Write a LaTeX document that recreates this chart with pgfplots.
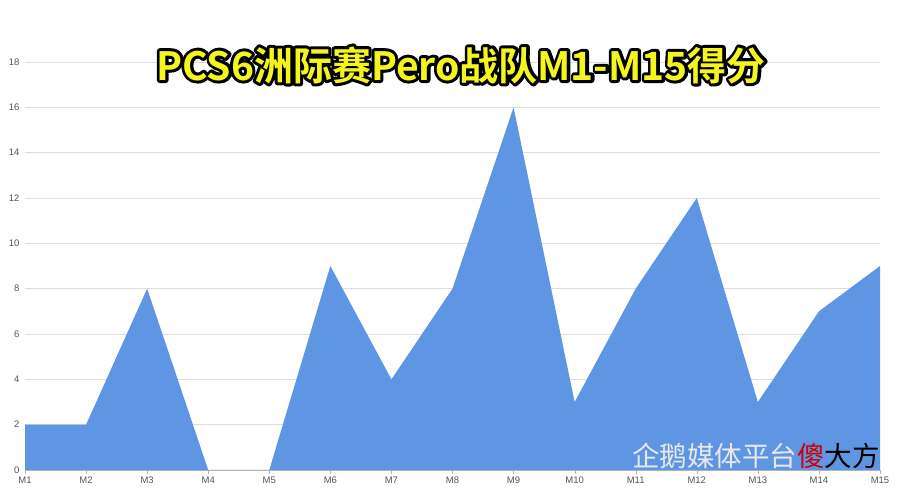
\documentclass[border=0pt]{standalone}
\usepackage{pgfplots}
\pgfplotsset{compat=1.18}
\usepackage{fontspec}
\setmainfont{Liberation Sans}
\newfontfamily\cjk{Noto Sans CJK SC Bold}
\newfontfamily\cjkr{Noto Sans CJK SC}
\definecolor{areablue}{HTML}{5F96E4}
\definecolor{gridgray}{HTML}{DDDDDD}
\definecolor{ticktext}{HTML}{555555}
\definecolor{titleyellow}{HTML}{F5F51E}

\begin{document}
\begin{tikzpicture}[x=1pt,y=1pt]
\path[use as bounding box, fill=white] (-25,-30) rectangle (875,470);
\begin{axis}[
    at={(0,0)}, anchor=south west,
    scale only axis,
    width=855pt, height=408pt,
    xmin=1, xmax=15,
    ymin=0, ymax=18,
    xtick={1,...,15},
    xticklabels={M1,M2,M3,M4,M5,M6,M7,M8,M9,M10,M11,M12,M13,M14,M15},
    ytick={0,2,...,18},
    axis x line*=bottom,
    axis y line*=left,
    x axis line style={draw=gray!60, -},
    y axis line style={draw=none},
    xtick align=outside,
    major tick length=4pt,
    xtick style={draw=gray!60},
    ytick style={draw=none},
    ymajorgrids,
    major grid style={draw=gridgray, line width=0.8pt},
    ticklabel style={font=\fontsize{9.5}{10}\selectfont, text=ticktext},
    /pgf/number format/assume math mode=true,
    yticklabel style={xshift=-2pt},
    xticklabel style={yshift=1pt},
    clip=false,
]
\addplot[fill=areablue, draw=none] coordinates {
    (1,2) (2,2) (3,8) (4,0) (5,0) (6,9) (7,4) (8,8)
    (9,16) (10,3) (11,8) (12,12) (13,3) (14,7) (15,9)
} \closedcycle;
\end{axis}
% title: black stroked copy under a plain yellow copy
\node[text=black, font=\cjk\fontsize{39}{44}\selectfont] at (436,405)
  {\special{pdf:literal direct 1 j 6 w 0 0 0 RG 2 Tr}PCS6洲际赛Pero战队M1-M15得分\special{pdf:literal direct 0 Tr}};
\node[text=titleyellow, font=\cjk\fontsize{39}{44}\selectfont] at (436,405) {PCS6洲际赛Pero战队M1-M15得分};
% watermark
\node[anchor=west, font=\cjkr\fontsize{27.5}{30}\selectfont, inner sep=0pt] at (607,14)
  {\color{white!82!gray}企鹅媒体平台\color{red!80!black}傻\color{black}大方};
\end{tikzpicture}
\end{document}
